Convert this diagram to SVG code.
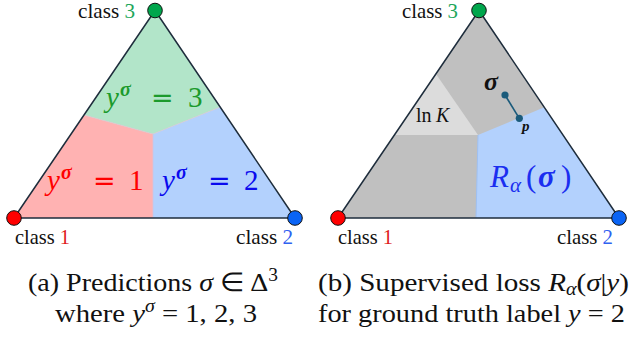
<svg xmlns="http://www.w3.org/2000/svg" width="632" height="339" viewBox="0 0 632 339" style="font-family:'Liberation Serif',serif">
<rect width="632" height="339" fill="#fff"/>

<g id="simplex-a">
  <polygon points="155,10.5 220.3,107 153,134 84,115" fill="#b2e5c9"/>
  <polygon points="84,115 153,134 153,218 14,218" fill="#ffb2b2"/>
  <polygon points="153,134 220.3,107 295,218 153,218" fill="#b3d1fd"/>
  <polyline points="84,115 153,134 220.3,107" fill="none" stroke="#d6c9d0" stroke-width="0.8"/>
  <line x1="153" y1="134" x2="153" y2="218" stroke="#d0c4df" stroke-width="0.8"/>
  <polygon points="155,10.5 14,218 295,218" fill="none" stroke="#1e2d3c" stroke-width="1.5" stroke-linejoin="round"/>
  <text style="font-family:'Liberation Serif',serif !important" font-size="29" fill="#1c9a2c" y="107"><tspan font-style="italic" x="106">y</tspan><tspan font-style="italic" font-weight="bold" font-size="20" x="120" dy="-11">σ</tspan><tspan style="font-family:'DejaVu Sans',sans-serif !important" font-size="27" x="151" dy="11">=</tspan><tspan x="188">3</tspan></text>
  <text style="font-family:'Liberation Serif',serif !important" font-size="29" fill="#ff0000" y="190"><tspan font-style="italic" x="47">y</tspan><tspan font-style="italic" font-weight="bold" font-size="20" x="61" dy="-11">σ</tspan><tspan style="font-family:'DejaVu Sans',sans-serif !important" font-size="27" x="93" dy="11">=</tspan><tspan x="129">1</tspan></text>
  <text style="font-family:'Liberation Serif',serif !important" font-size="29" fill="#0a0aee" y="190"><tspan font-style="italic" x="162">y</tspan><tspan font-style="italic" font-weight="bold" font-size="20" x="176" dy="-11">σ</tspan><tspan style="font-family:'DejaVu Sans',sans-serif !important" font-size="27" x="208" dy="11">=</tspan><tspan x="244">2</tspan></text>
</g>

<g id="simplex-b">
  <polygon points="479,10.5 338,218 619,218" fill="#c0c0c0"/>
  <polygon points="436,74 478,135 394.4,135" fill="#dcdcdc"/>
  <polygon points="478,135 544.4,107.3 619,218 476,218" fill="#b3d1fd"/>
  <line x1="478" y1="135" x2="476" y2="218" stroke="#9fc0f2" stroke-width="1"/>
  <polygon points="479,10.5 338,218 619,218" fill="none" stroke="#1e2d3c" stroke-width="1.5" stroke-linejoin="round"/>
  <text style="font-family:'Liberation Serif',serif !important" fill="#111" y="122" font-size="20"><tspan x="416">ln</tspan><tspan font-style="italic" x="436">K</tspan></text>
  <text style="font-family:'Liberation Serif',serif !important" font-style="italic" font-weight="bold" fill="#111" x="484" y="90" font-size="26">σ</text>
  <text style="font-family:'Liberation Serif',serif !important" font-style="italic" font-weight="bold" fill="#111" x="522" y="131" font-size="15">p</text>
  <text style="font-family:'Liberation Serif',serif !important" fill="#1a2ef0" y="187" font-size="31"><tspan font-style="italic" x="490">R</tspan><tspan font-style="italic" font-size="21" x="510" dy="5">α</tspan><tspan x="526" dy="-5">(</tspan><tspan font-style="italic" font-weight="bold" x="538">σ</tspan><tspan x="561">)</tspan></text>
</g>

<g id="connectors">
  <line x1="505" y1="95" x2="519.3" y2="118.3" stroke="#1b5b7b" stroke-width="1.6"/>
</g>
<g id="point-sigma"><circle cx="505" cy="95" r="3.6" fill="#1b5b7b"/></g>
<g id="point-p"><circle cx="519.3" cy="118.3" r="3.6" fill="#1b5b7b"/></g>

<g id="vertex-a3"><circle cx="155" cy="10.5" r="7.3" fill="#00a64c" stroke="#111" stroke-width="1"/>
  <text style="font-family:'Liberation Serif',serif !important" font-size="21" fill="#111" x="78" y="18" textLength="57" lengthAdjust="spacingAndGlyphs">class <tspan fill="#21a65a">3</tspan></text></g>
<g id="vertex-a1"><circle cx="14" cy="218" r="7.3" fill="#ff0000" stroke="#111" stroke-width="1"/>
  <text style="font-family:'Liberation Serif',serif !important" font-size="21" fill="#111" x="15" y="244" textLength="55" lengthAdjust="spacingAndGlyphs">class <tspan fill="#e01b1b">1</tspan></text></g>
<g id="vertex-a2"><circle cx="295" cy="218" r="7.3" fill="#0a64f5" stroke="#111" stroke-width="1"/>
  <text style="font-family:'Liberation Serif',serif !important" font-size="21" fill="#111" x="236" y="244" textLength="57" lengthAdjust="spacingAndGlyphs">class <tspan fill="#2f62f0">2</tspan></text></g>

<g id="vertex-b3"><circle cx="479" cy="10.5" r="7.3" fill="#00a64c" stroke="#111" stroke-width="1"/>
  <text style="font-family:'Liberation Serif',serif !important" font-size="21" fill="#111" x="402" y="18" textLength="56" lengthAdjust="spacingAndGlyphs">class <tspan fill="#21a65a">3</tspan></text></g>
<g id="vertex-b1"><circle cx="338" cy="218" r="7.3" fill="#ff0000" stroke="#111" stroke-width="1"/>
  <text style="font-family:'Liberation Serif',serif !important" font-size="21" fill="#111" x="338" y="244" textLength="55" lengthAdjust="spacingAndGlyphs">class <tspan fill="#e01b1b">1</tspan></text></g>
<g id="vertex-b2"><circle cx="619" cy="218" r="7.3" fill="#0a64f5" stroke="#111" stroke-width="1"/>
  <text style="font-family:'Liberation Serif',serif !important" font-size="21" fill="#111" x="557" y="244" textLength="56" lengthAdjust="spacingAndGlyphs">class <tspan fill="#2f62f0">2</tspan></text></g>

<g id="caption-a">
  <text style="font-family:'Liberation Serif',serif !important" font-size="26" fill="#111" x="28" y="291" textLength="250" lengthAdjust="spacingAndGlyphs">(a) Predictions <tspan font-style="italic">σ</tspan> ∈ Δ<tspan font-size="18" dy="-10">3</tspan></text>
  <text style="font-family:'Liberation Serif',serif !important" font-size="26" fill="#111" x="55" y="322" textLength="202" lengthAdjust="spacingAndGlyphs">where <tspan font-style="italic">y</tspan><tspan font-style="italic" font-size="18" dy="-10">σ</tspan><tspan dy="10"> = 1, 2, 3</tspan></text>
</g>
<g id="caption-b">
  <text style="font-family:'Liberation Serif',serif !important" font-size="26" fill="#111" x="318" y="291" textLength="311" lengthAdjust="spacingAndGlyphs">(b) Supervised loss <tspan font-style="italic">R</tspan><tspan font-style="italic" font-size="18" dy="4">α</tspan><tspan dy="-4">(</tspan><tspan font-style="italic">σ</tspan>|<tspan font-style="italic">y</tspan>)</text>
  <text style="font-family:'Liberation Serif',serif !important" font-size="26" fill="#111" x="318" y="322" textLength="307" lengthAdjust="spacingAndGlyphs">for ground truth label <tspan font-style="italic">y</tspan> = 2</text>
</g>
</svg>
